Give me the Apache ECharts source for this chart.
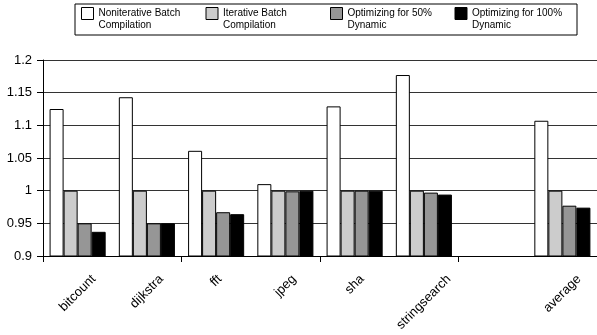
<!DOCTYPE html>
<html>
<head>
<meta charset="utf-8">
<script src="https://cdn.jsdelivr.net/npm/echarts@6/dist/echarts.min.js"></script>
<style>
html,body{margin:0;padding:0;background:#fff;}
#chart{width:597px;height:335px;}
</style>
</head>
<body>
<div id="chart"></div>
<script>
const FONT = '"Liberation Sans", Arial, Helvetica, sans-serif';

const categories = ['bitcount', 'dijkstra', 'fft', 'jpeg', 'sha', 'stringsearch', '', 'average'];
const seriesNames = [
  'Noniterative Batch\nCompilation',
  'Iterative Batch\nCompilation',
  'Optimizing for 50%\nDynamic',
  'Optimizing for 100%\nDynamic'
];
const noniterative = [1.125, 1.143, 1.061, 1.010, 1.129, 1.177, null, 1.107];
const iterative    = [1.000, 1.000, 1.000, 1.000, 1.000, 1.000, null, 1.000];
const dynamic50    = [0.950, 0.950, 0.967, 0.999, 1.000, 0.997, null, 0.977];
const dynamic100   = [0.937, 0.950, 0.964, 1.000, 1.000, 0.994, null, 0.974];
const yMin = 0.9, yMax = 1.2, yInterval = 0.05;

const colors = ['#ffffff', '#cccccc', '#969696', '#000000'];
const values = [noniterative, iterative, dynamic50, dynamic100];

// Rotated category labels: each label box is centred on its category and all tops line up,
// so each label gets its own margin (one label-only axis per category).
const LABEL_SIZE = 13, BASE_MARGIN = 8, TARGET_TOP_OFFSET = 16.5; // top of label boxes below the axis line
const ctx = document.createElement('canvas').getContext('2d');
ctx.font = LABEL_SIZE + 'px ' + FONT;

const mainXAxis = {
  type: 'category',
  data: categories,
  axisLine: {lineStyle: {color: '#000', width: 1}},
  axisTick: {show: true, length: 6, lineStyle: {color: '#000'}},
  axisLabel: {show: false},
  splitLine: {show: false}
};
const labelAxes = [];
categories.forEach(function (c, i) {
  if (!c) return;
  const w = ctx.measureText(c).width;
  const margin = TARGET_TOP_OFFSET + 0.35355 * (w + LABEL_SIZE);
  labelAxes.push({
    type: 'category',
    data: categories,
    position: 'bottom',
    offset: 0,
    axisLine: {show: false},
    axisTick: {show: false},
    splitLine: {show: false},
    axisLabel: {
      interval: 0, rotate: 45, margin: margin,
      align: 'center', verticalAlign: 'middle',
      fontSize: LABEL_SIZE, color: '#000', fontFamily: FONT,
      formatter: function (v, idx) { return idx === i ? v : ''; }
    }
  });
});

const chart = echarts.init(document.getElementById('chart'));
chart.setOption({
  animation: false,
  backgroundColor: '#fff',
  textStyle: {fontFamily: FONT, color: '#000'},
  legend: {
    left: 75, top: 4,
    padding: [3, 5, 3, 6],
    itemWidth: 12, itemHeight: 24, itemGap: 7,
    icon: 'path://M0,0H12V12H0Z M0,24',
    borderColor: '#000', borderWidth: 1, backgroundColor: '#fff',
    itemStyle: {borderColor: '#000', borderWidth: 1},
    textStyle: {fontSize: 10, lineHeight: 12, width: 100, color: '#000', fontFamily: FONT},
    data: seriesNames
  },
  grid: {left: 43, right: 0, top: 60, bottom: 79, outerBoundsMode: 'none'},
  xAxis: [mainXAxis].concat(labelAxes),
  yAxis: {
    type: 'value',
    min: yMin, max: yMax, interval: yInterval,
    axisLine: {show: true, lineStyle: {color: '#000', width: 1}},
    axisTick: {show: true, length: 6, lineStyle: {color: '#000'}},
    axisLabel: {fontSize: 13, color: '#000', margin: 11, fontFamily: FONT},
    splitLine: {show: true, lineStyle: {color: '#333', width: 1}}
  },
  series: seriesNames.map(function (name, k) {
    return {
      name: name,
      type: 'bar',
      xAxisIndex: 0,
      data: values[k],
      barGap: '0%',
      barCategoryGap: '19%',
      itemStyle: {color: colors[k], borderColor: '#000', borderWidth: 1}
    };
  })
});
</script>
</body>
</html>
